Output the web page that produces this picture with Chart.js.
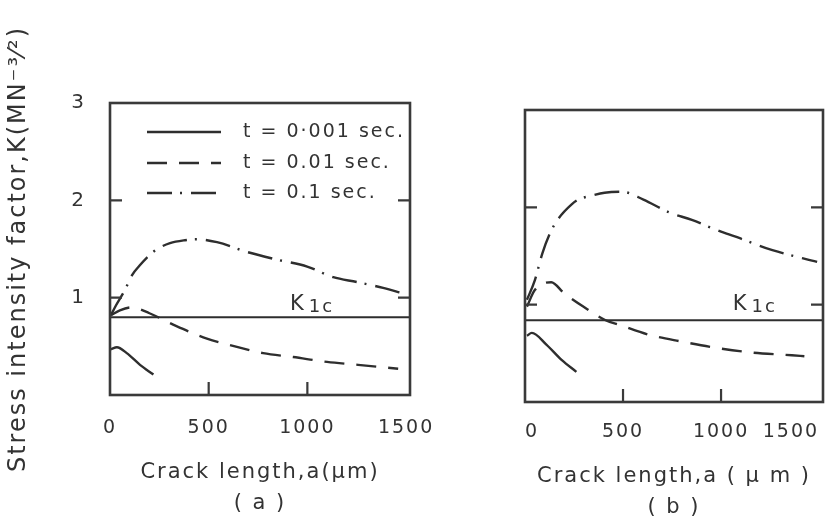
<!DOCTYPE html>
<html lang="en">
<head>
  <meta charset="UTF-8">
  <title>Stress intensity factor vs crack length</title>
  <script src="https://cdn.jsdelivr.net/npm/chart.js"></script>
  <style>
    html, body { margin: 0; padding: 0; background: #fff; }
    .wrap { position: relative; width: 834px; height: 519px; overflow: hidden; }
    #chart-a { position: absolute; left: 0; top: 0; }
    #chart-b { position: absolute; left: 440px; top: 0; }
  </style>
</head>
<body>
  <div class="wrap">
    <canvas id="chart-a" width="440" height="519"></canvas>
    <canvas id="chart-b" width="394" height="519"></canvas>
  </div>

  <script>
    // tick labels
    const xTicks = [0, 500, 1000, 1500];
    const yTicks = [1, 2, 3];
    const innerTicksX = [500, 1000];
    const innerTicksY = [1, 2];

    // series names
    const seriesLabels = ['t = 0·001 sec.', 't = 0.01 sec.', 't = 0.1 sec.'];

    // panel (a)
    const solidAx = [5, 35, 85, 152, 220];
    const solidAy = [0.47, 0.49, 0.43, 0.31, 0.21];
    const dashedAx = [5, 50, 110, 200, 334, 491, 633, 776, 928, 1100, 1257, 1460];
    const dashedAy = [0.82, 0.87, 0.90, 0.84, 0.71, 0.58, 0.50, 0.43, 0.39, 0.34, 0.31, 0.27];
    const dashDotAx = [5, 30, 76, 111, 150, 186, 240, 304, 380, 441, 542, 694, 847, 999, 1131, 1252, 1384, 1505];
    const dashDotAy = [0.82, 0.92, 1.08, 1.23, 1.33, 1.41, 1.50, 1.56, 1.59, 1.60, 1.57, 1.47, 1.39, 1.32, 1.21, 1.16, 1.10, 1.03];
    const k1cA = 0.80;

    // panel (b)
    const solidBx = [10, 35, 109, 188, 262];
    const solidBy = [0.68, 0.71, 0.59, 0.43, 0.31];
    const dashedBx = [10, 50, 134, 198, 297, 411, 485, 634, 802, 965, 1148, 1361, 1425];
    const dashedBy = [0.98, 1.15, 1.23, 1.12, 0.98, 0.84, 0.79, 0.69, 0.62, 0.56, 0.51, 0.48, 0.47];
    const dashDotBx = [10, 50, 89, 129, 173, 238, 272, 340, 406, 495, 604, 733, 851, 1000, 1099, 1262, 1490];
    const dashDotBy = [1.05, 1.25, 1.53, 1.74, 1.89, 2.03, 2.08, 2.12, 2.15, 2.16, 2.08, 1.95, 1.87, 1.75, 1.68, 1.56, 1.44];
    const k1cB = 0.84;

    // where the "K1c" note sits, in data units
    const k1cNoteA = { x: 912, y: 0.87 };
    const k1cNoteB = { x: 1060, y: 0.95 };

    const ink = '#2e2e2e';
    const textInk = '#333';
    const fontFace = '"DejaVu Sans", sans-serif';
    const dashes = [[], [20, 12], [25, 8, 2, 9]];

    const pts = (xs, ys) => xs.map((x, i) => ({ x, y: ys[i] }));

    function makeDatasets(sets, k1c) {
      const ds = sets.map((s, i) => ({
        label: seriesLabels[i],
        data: pts(s[0], s[1]),
        borderColor: ink,
        borderWidth: 2.4,
        borderDash: dashes[i],
        pointRadius: 0,
        cubicInterpolationMode: 'monotone',
        fill: false
      }));
      ds.push({
        label: 'K1c',
        data: pts([0, 1520], [k1c, k1c]),
        borderColor: ink,
        borderWidth: 2,
        pointRadius: 0,
        fill: false
      });
      return ds;
    }

    // no extra room for overhanging labels, the plot box is fixed
    function noPad(s) {
      s.paddingLeft = 0;
      s.paddingRight = 0;
      s.paddingTop = 0;
      s.paddingBottom = 0;
    }

    // box around the plot, inner tick marks, K1c note, legend
    function framePlugin(note, withLegend) {
      return {
        id: 'frame',
        beforeDraw(chart) {
          chart.ctx.letterSpacing = '2px';
        },
        afterDraw(chart) {
          const { ctx, chartArea: a, scales } = chart;
          ctx.save();
          ctx.strokeStyle = '#3a3a3a';
          ctx.lineWidth = 2.6;
          ctx.setLineDash([]);
          ctx.strokeRect(a.left, a.top, a.right - a.left, a.bottom - a.top);

          ctx.lineWidth = 2.2;
          ctx.beginPath();
          innerTicksX.forEach(v => {
            const px = scales.x.getPixelForValue(v);
            ctx.moveTo(px, a.bottom);
            ctx.lineTo(px, a.bottom - 13);
          });
          innerTicksY.forEach(v => {
            const py = scales.y.getPixelForValue(v);
            ctx.moveTo(a.left, py);
            ctx.lineTo(a.left + 12, py);
            ctx.moveTo(a.right, py);
            ctx.lineTo(a.right - 12, py);
          });
          ctx.stroke();

          // K1c note
          const nx = scales.x.getPixelForValue(note.x);
          const ny = scales.y.getPixelForValue(note.y);
          ctx.fillStyle = textInk;
          ctx.textBaseline = 'alphabetic';
          ctx.textAlign = 'left';
          ctx.letterSpacing = '2px';
          ctx.font = '21px ' + fontFace;
          ctx.fillText('K', nx, ny);
          const kw = ctx.measureText('K').width;
          ctx.font = '18px ' + fontFace;
          ctx.fillText('1c', nx + kw + 3, ny + 2);

          if (withLegend) {
            const rows = [132, 163, 193];
            chart.data.datasets.slice(0, 3).forEach((d, i) => {
              ctx.strokeStyle = ink;
              ctx.lineWidth = 2.4;
              ctx.setLineDash(d.borderDash);
              ctx.beginPath();
              ctx.moveTo(147, rows[i]);
              ctx.lineTo(221, rows[i]);
              ctx.stroke();
              ctx.setLineDash([]);
              ctx.font = '19px ' + fontFace;
              ctx.textBaseline = 'middle';
              ctx.fillText(d.label, 243, rows[i]);
            });
          }
          ctx.restore();
        }
      };
    }

    function makeChart(id, sets, k1c, opts) {
      return new Chart(document.getElementById(id), {
        type: 'line',
        data: { datasets: makeDatasets(sets, k1c) },
        options: {
          responsive: false,
          animation: false,
          layout: { padding: opts.padding },
          plugins: { legend: { display: false }, tooltip: { enabled: false } },
          scales: {
            x: {
              type: 'linear',
              min: 0,
              max: 1520,
              afterBuildTicks: s => { s.ticks = xTicks.map(v => ({ value: v })); },
              afterFit: s => { s.height = opts.xHeight; noPad(s); },
              grid: { display: false, drawTicks: false },
              border: { display: false },
              ticks: {
                autoSkip: false,
                maxRotation: 0,
                align: opts.xTickAlign,
                padding: opts.xTickPad,
                color: textInk,
                font: { family: fontFace, size: 19 },
                callback: v => String(v)
              },
              title: {
                display: true,
                text: opts.xTitle,
                color: textInk,
                font: { family: fontFace, size: 21, lineHeight: 1.48 },
                padding: { top: 0, bottom: opts.xTitlePad }
              }
            },
            y: {
              min: 0,
              max: 3,
              afterBuildTicks: s => { s.ticks = yTicks.map(v => ({ value: v })); },
              afterFit: s => { s.width = opts.yWidth; noPad(s); },
              grid: { display: false, drawTicks: false },
              border: { display: false },
              ticks: {
                display: opts.yLabels,
                padding: 24,
                color: textInk,
                font: { family: fontFace, size: 20 },
                callback: v => String(v)
              },
              title: {
                display: opts.yLabels,
                text: 'Stress intensity factor,K(MN⁻³⁄²)',
                color: textInk,
                font: { family: fontFace, size: 24 },
                padding: { top: 4, bottom: 0 }
              }
            }
          }
        },
        plugins: [framePlugin(opts.note, opts.legend)]
      });
    }

    makeChart('chart-a',
      [[solidAx, solidAy], [dashedAx, dashedAy], [dashDotAx, dashDotAy]], k1cA, {
        padding: { left: 0, top: 103, right: 30, bottom: 0 },
        xHeight: 124, yWidth: 110, xTickPad: 22, xTitlePad: 0, xTickAlign: 'center',
        xTitle: ['Crack length,a(μm)', '( a )'],
        yLabels: true, legend: true, note: k1cNoteA
      });

    makeChart('chart-b',
      [[solidBx, solidBy], [dashedBx, dashedBy], [dashDotBx, dashDotBy]], k1cB, {
        padding: { left: 0, top: 110, right: 11, bottom: 0 },
        xHeight: 117, yWidth: 85, xTickPad: 19, xTitlePad: -4, xTickAlign: 'inner',
        xTitle: ['Crack length,a ( μ m )', '( b )'],
        yLabels: false, legend: false, note: k1cNoteB
      });
  </script>
</body>
</html>
